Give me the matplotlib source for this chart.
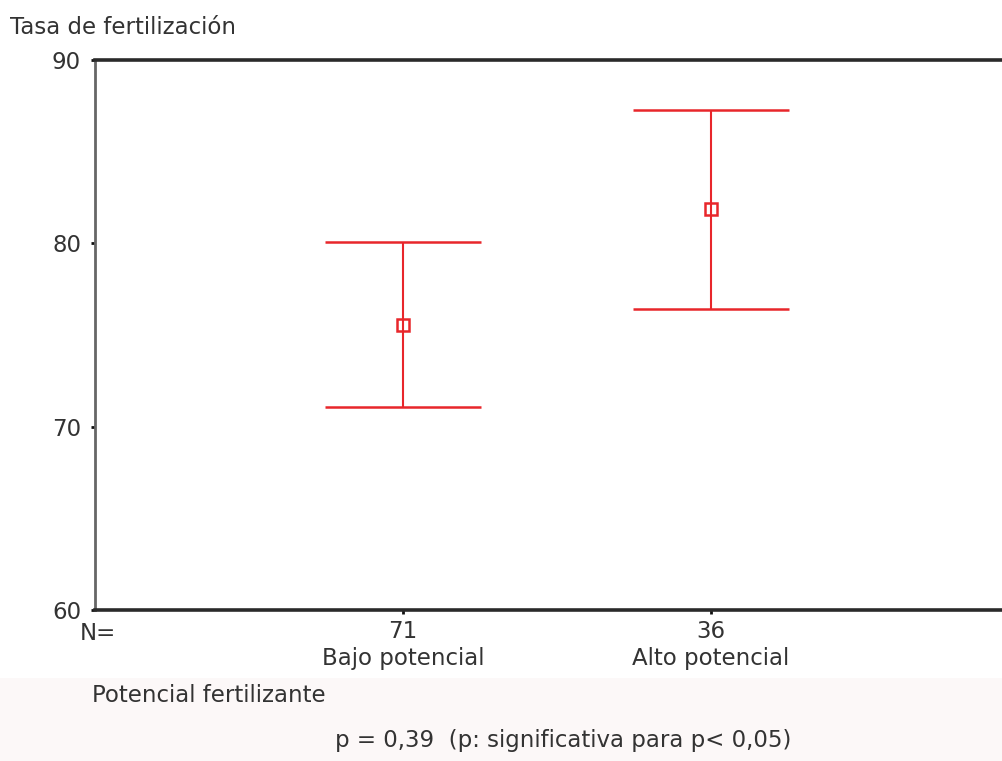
import matplotlib
matplotlib.use("Agg")
import matplotlib.pyplot as plt
from matplotlib.patches import Rectangle

categories = ["Bajo potencial", "Alto potencial"]
n_values = [71, 36]
means = [75.55, 81.85]
lower = [71.1, 76.4]
upper = [80.1, 87.25]
yticks = [60, 70, 80, 90]

W, H = 1003, 761
fig = plt.figure(figsize=(W / 100, H / 100), dpi=100)
fig.patch.set_facecolor("white")
fig.patches.append(Rectangle((0, 0), 1, (H - 678) / H, transform=fig.transFigure,
                             facecolor="#fcf8f8", edgecolor="none", zorder=0))

left, right = 95, 1019
top, bottom = 60, 610
ax = fig.add_axes([left / W, (H - bottom) / H, (right - left) / W, (bottom - top) / H])
ax.set_facecolor("none")

xs = [1, 2]
red = "#e8262b"
yerr = [[m - l for m, l in zip(means, lower)], [u - m for u, m in zip(upper, means)]]
ax.errorbar(xs, means, yerr=yerr, fmt="s", mfc="none", mec=red, ms=8, mew=1.8,
            ecolor=red, elinewidth=1.5, capsize=56, capthick=2.2, color=red)

FS = 16.5
ax.set_xlim(0, 3)
ax.set_ylim(60, 90)
ax.set_yticks(yticks)
ax.set_xticks(xs)
ax.set_xticklabels([f"{n}\n{c}" for n, c in zip(n_values, categories)],
                   linespacing=1.25)
ax.tick_params(axis="both", length=3, width=2, color="#111", labelsize=FS,
               labelcolor="#333")
ax.tick_params(axis="y", pad=7)
ax.tick_params(axis="x", pad=4)

for s in ["top", "bottom"]:
    ax.spines[s].set_linewidth(2.6)
    ax.spines[s].set_color("#2a2a2a")
ax.spines["left"].set_linewidth(2)
ax.spines["left"].set_color("#666666")
ax.spines["right"].set_visible(False)

tc = "#333333"
fig.text(10 / W, 1 - 28 / H, "Tasa de fertilización", fontsize=FS, color=tc, va="center")
fig.text(80 / W, 1 - 633 / H, "N=", fontsize=FS, color=tc, va="center")
fig.text(92 / W, 1 - 695 / H, "Potencial fertilizante", fontsize=FS, color=tc, va="center")
fig.text(335 / W, 1 - 740 / H, "p = 0,39  (p: significativa para p< 0,05)", fontsize=FS,
         color=tc, va="center")

fig.savefig("out.png", dpi=100)
